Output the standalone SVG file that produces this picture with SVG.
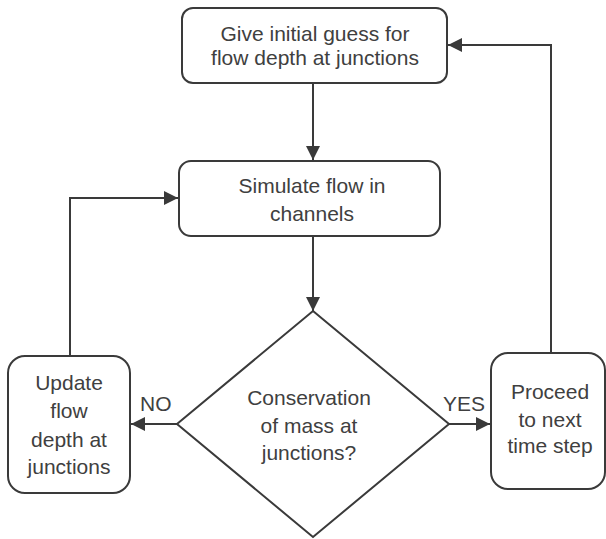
<svg xmlns="http://www.w3.org/2000/svg" width="606" height="539" viewBox="0 0 606 539">
<style>
.box{fill:#fff;stroke:#3a3a3a;stroke-width:2}
.ln{fill:none;stroke:#3a3a3a;stroke-width:2}
text{font-family:"Liberation Sans",Arial,sans-serif;font-size:21px;fill:#404040;text-anchor:middle}
.lbl{text-anchor:start}
</style>
<defs>
<marker id="ah" viewBox="0 0 14 14" refX="14" refY="7" markerWidth="14" markerHeight="14" markerUnits="userSpaceOnUse" orient="auto">
<path d="M0,0 L14,7 L0,14 Z" fill="#3a3a3a"/>
</marker>
</defs>
<rect width="606" height="539" fill="#fff"/>
<g id="connectors">
<line class="ln" x1="313" y1="83" x2="313" y2="160" marker-end="url(#ah)"/>
<line class="ln" x1="313" y1="236" x2="313" y2="311" marker-end="url(#ah)"/>
<polyline class="ln" points="70,356 70,198 178,198" marker-end="url(#ah)"/>
<polyline class="ln" points="551,353 551,45 448,45" marker-end="url(#ah)"/>
<line class="ln" x1="177" y1="424" x2="131" y2="424" marker-end="url(#ah)"/>
<line class="ln" x1="449" y1="424" x2="490" y2="424" marker-end="url(#ah)"/>
<text class="lbl" x="140" y="411">NO</text>
<text class="lbl" x="443" y="411">YES</text>
</g>
<g id="n1">
<rect class="box" x="182" y="8" width="265" height="75" rx="11"/>
<text x="315" y="41">Give initial guess for</text>
<text x="315" y="65">flow depth at junctions</text>
</g>
<g id="n2">
<rect class="box" x="179" y="161" width="261" height="75" rx="12"/>
<text x="312" y="193">Simulate flow in</text>
<text x="312" y="221">channels</text>
</g>
<g id="n3">
<polygon class="box" points="313,311 449,424 313,537 177,424"/>
<text x="309" y="405">Conservation</text>
<text x="309" y="433">of mass at</text>
<text x="309" y="460">junctions?</text>
</g>
<g id="n4">
<rect class="box" x="8" y="356" width="122" height="137" rx="17"/>
<text x="69" y="390">Update</text>
<text x="69" y="418">flow</text>
<text x="69" y="447">depth at</text>
<text x="69" y="474">junctions</text>
</g>
<g id="n5">
<rect class="box" x="491" y="353" width="114" height="136" rx="17"/>
<text x="550" y="399">Proceed</text>
<text x="550" y="427">to next</text>
<text x="550" y="453">time step</text>
</g>
</svg>
